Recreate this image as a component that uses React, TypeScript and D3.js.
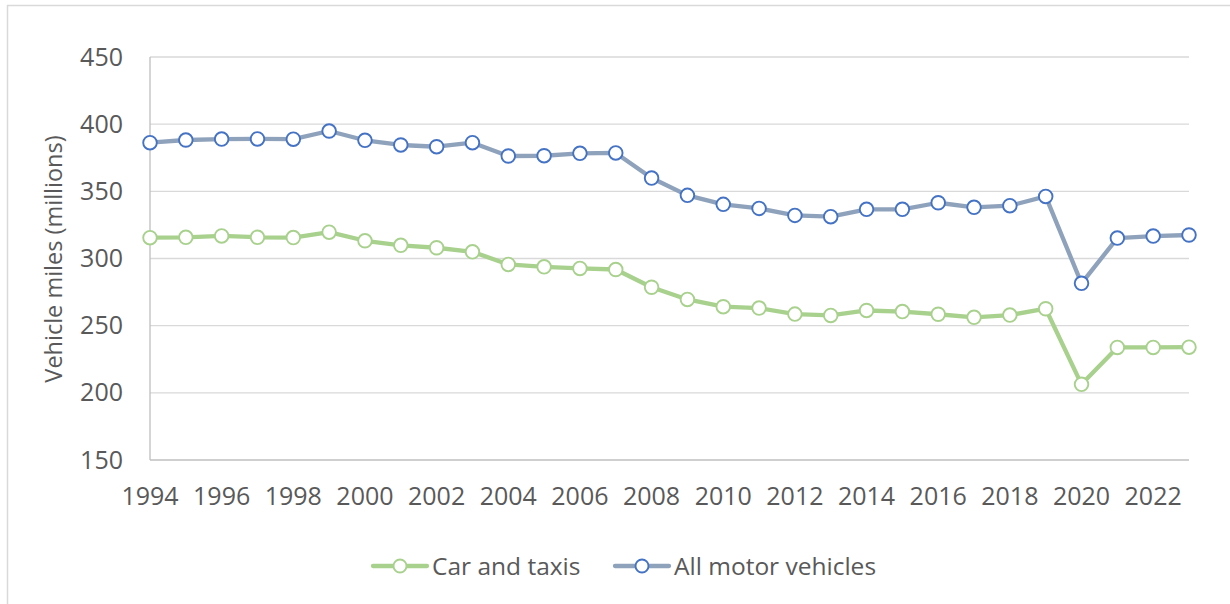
import React from "react";
import * as d3 from "d3";

const years = [
  1994, 1995, 1996, 1997, 1998, 1999, 2000, 2001, 2002, 2003, 2004, 2005, 2006, 2007, 2008,
  2009, 2010, 2011, 2012, 2013, 2014, 2015, 2016, 2017, 2018, 2019, 2020, 2021, 2022, 2023,
];
const carsAndTaxis = [
  315.5, 315.8, 316.8, 315.8, 315.6, 319.6, 313.2, 309.8, 308.0, 305.0, 295.6, 293.8, 292.6,
  291.8, 278.6, 269.5, 264.1, 263.1, 258.6, 257.6, 261.3, 260.5, 258.5, 256.2, 257.9, 262.6,
  206.3, 233.8, 233.8, 234.0,
];
const allMotorVehicles = [
  386.2, 388.2, 388.9, 389.0, 388.8, 394.9, 388.0, 384.5, 383.2, 386.2, 376.3, 376.5, 378.3,
  378.6, 359.9, 347.0, 340.3, 337.3, 332.1, 331.1, 336.6, 336.6, 341.5, 338.1, 339.3, 346.2,
  281.5, 315.2, 316.7, 317.5,
];
const yTicks = [150, 200, 250, 300, 350, 400, 450];
const xTickYears = [1994, 1996, 1998, 2000, 2002, 2004, 2006, 2008, 2010, 2012, 2014, 2016, 2018, 2020, 2022];

const series = [
  { name: "Car and taxis", values: carsAndTaxis, line: "#a9d18e", marker: "#a9d18e" },
  { name: "All motor vehicles", values: allMotorVehicles, line: "#8fa2bc", marker: "#4472c4" },
];

const W = 1230;
const H = 604;
const left = 150;
const right = 1189;
const top = 57;
const bottom = 460;
const font = "'Open Sans', sans-serif";
const textColor = "#595959";

export default function App() {
  const x = d3.scaleLinear().domain([1994, 2023]).range([left, right]);
  const y = d3.scaleLinear().domain([150, 450]).range([bottom, top]);

  const line = d3
    .line<number>()
    .x((_, i) => x(years[i]))
    .y((d) => y(d));

  // legend layout
  const legend = [
    { s: series[0], x0: 373 },
    { s: series[1], x0: 615 },
  ];

  return (
    <svg
      width={W}
      height={H}
      style={{ position: "absolute", left: 0, top: 0, background: "#fff" }}
      fontFamily={font}
    >
      <rect x={0} y={0} width={W} height={H} fill="#fff" />
      {/* outer chart frame (cropped on the right/bottom) */}
      <path d={`M7.5,${H + 2} V5.5 H${W + 2}`} fill="none" stroke="#d9d9d9" strokeWidth={1.5} />

      {/* gridlines */}
      {yTicks.map((t) => (
        <g key={t}>
          {t !== 150 && (
            <line x1={left} x2={right} y1={y(t)} y2={y(t)} stroke="#d9d9d9" strokeWidth={1.3} />
          )}
          <text
            x={123}
            y={y(t) + 8.5}
            textAnchor="end"
            fontSize={25}
            fill={textColor}
          >
            {t}
          </text>
        </g>
      ))}
      {/* axes */}
      <line x1={left} x2={left} y1={top} y2={bottom} stroke="#bfbfbf" strokeWidth={1.3} />
      <line x1={left} x2={right} y1={bottom} y2={bottom} stroke="#bfbfbf" strokeWidth={1.3} />

      {xTickYears.map((yr) => (
        <text key={yr} x={x(yr)} y={505} textAnchor="middle" fontSize={25} fill={textColor}>
          {yr}
        </text>
      ))}

      <text
        transform={`translate(62,259) rotate(-90)`}
        textAnchor="middle"
        fontSize={23.5}
        fill={textColor}
      >
        Vehicle miles (millions)
      </text>

      {series.map((s) => (
        <g key={s.name}>
          <path
            d={line(s.values) ?? ""}
            fill="none"
            stroke={s.line}
            strokeWidth={4.3}
            strokeLinejoin="round"
            strokeLinecap="round"
          />
          {s.values.map((v, i) => (
            <circle
              key={i}
              cx={x(years[i])}
              cy={y(v)}
              r={6.8}
              fill="#fff"
              stroke={s.marker}
              strokeWidth={1.9}
            />
          ))}
        </g>
      ))}

      {legend.map(({ s, x0 }) => (
        <g key={s.name}>
          <line x1={x0} x2={x0 + 54} y1={566} y2={566} stroke={s.line} strokeWidth={4.3} strokeLinecap="round" />
          <circle cx={x0 + 27} cy={566} r={6.5} fill="#fff" stroke={s.marker} strokeWidth={1.9} />
          <text x={x0 + 59} y={574.5} fontSize={24.5} fill={textColor}>
            {s.name}
          </text>
        </g>
      ))}
    </svg>
  );
}
